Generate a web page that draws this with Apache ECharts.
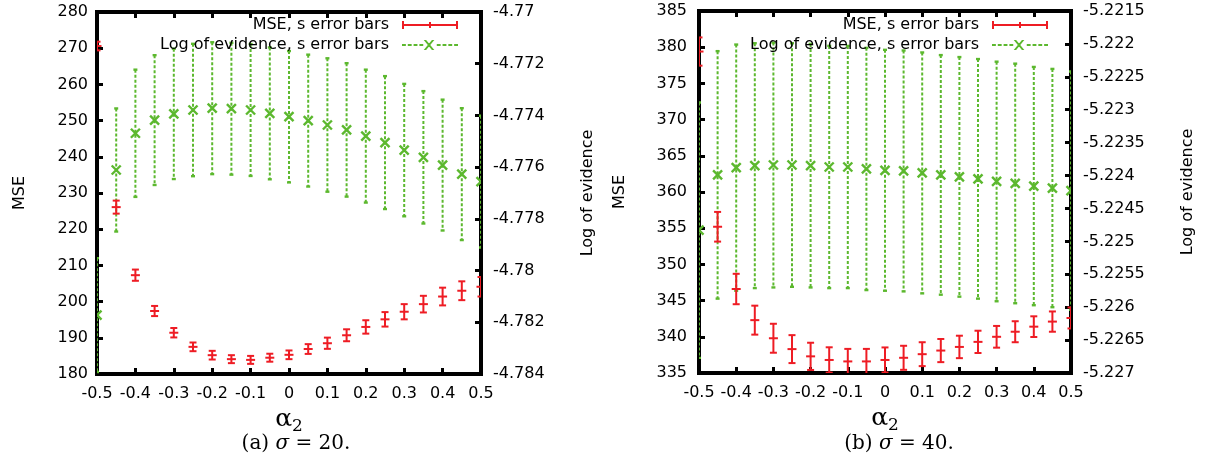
<!DOCTYPE html>
<html>
<head>
<meta charset="utf-8">
<script src="https://cdn.jsdelivr.net/npm/echarts@6/dist/echarts.min.js"></script>
<style>
  html, body { margin: 0; padding: 0; background: #fff; }
  #chart { width: 1209px; height: 475px; }
</style>
</head>
<body>
<div id="chart"></div>
<script>
// alpha_2 sweep shared by both panels
const alpha2 = [-0.5, -0.45, -0.4, -0.35, -0.3, -0.25, -0.2, -0.15, -0.1, -0.05, 0,
                0.05, 0.1, 0.15, 0.2, 0.25, 0.3, 0.35, 0.4, 0.45, 0.5];

// Panel (a): sigma = 20
const mse20      = [270.6, 226.1, 207.3, 197.4, 191.4, 187.5, 185.2, 184.1, 183.9, 184.5, 185.3,
                    186.9, 188.5, 190.7, 193.0, 195.1, 197.2, 199.3, 201.4, 203.0, 204.1];
const mse20Err   = [1.2, 1.8, 1.55, 1.4, 1.3, 1.2, 1.2, 1.1, 1.1, 1.1, 1.2,
                    1.35, 1.55, 1.65, 1.85, 2.0, 2.1, 2.3, 2.45, 2.6, 2.7];
const logEv20    = [-4.78172, -4.77611, -4.77469, -4.77418, -4.77394, -4.77379, -4.77372, -4.77374,
                    -4.77379, -4.77392, -4.77405, -4.7742, -4.77437, -4.77456, -4.7748, -4.77505,
                    -4.77534, -4.77562, -4.77592, -4.77627, -4.77656];
const logEv20Err = [0.0022, 0.00238, 0.00246, 0.00251, 0.00252, 0.00256, 0.00255, 0.00255, 0.00255,
                    0.00255, 0.00254, 0.00255, 0.00258, 0.00258, 0.00257, 0.00257, 0.00256, 0.00256,
                    0.00253, 0.00255, 0.00255];

// Panel (b): sigma = 40
const mse40      = [379.4, 355.2, 346.6, 342.3, 339.8, 338.3, 337.3, 336.8, 336.6, 336.6, 336.8,
                    337.1, 337.6, 338.1, 338.6, 339.3, 340.0, 340.7, 341.4, 342.1, 342.6];
const mse40Err   = [1.95, 2.05, 2.1, 2.0, 2.0, 1.93, 1.88, 1.75, 1.73, 1.73, 1.73,
                    1.66, 1.65, 1.6, 1.55, 1.54, 1.5, 1.45, 1.43, 1.4, 1.45];
const logEv40    = [-5.22483, -5.22399, -5.22388, -5.22385, -5.22384, -5.22384, -5.22385, -5.22387,
                    -5.22387, -5.2239, -5.22392, -5.22393, -5.22396, -5.22399, -5.22402, -5.22405,
                    -5.22409, -5.22412, -5.22416, -5.22419, -5.22423];
const logEv40Err = [0.00194, 0.00188, 0.00187, 0.00186, 0.00186, 0.00185, 0.00185, 0.00184, 0.00184,
                    0.00184, 0.00183, 0.00183, 0.00183, 0.00182, 0.00182, 0.00182, 0.00182, 0.00182,
                    0.00181, 0.00181, 0.00181];

// Axis ranges: [min, max, step]
const xRange     = [-0.5, 0.5, 0.1];
const mse20Range = [180, 280, 10];
const ev20Range  = [-4.784, -4.77, 0.002];
const mse40Range = [335, 385, 5];
const ev40Range  = [-5.227, -5.2215, 0.0005];

const seriesNames = ['MSE, s error bars', 'Log of evidence, s error bars'];
const captions = ['(a) {i|σ} = 20.', '(b) {i|σ} = 40.'];

const RED = '#ee1c24';
const GREEN = '#5cb82e';
const SANS = 'DejaVu Sans';
const SERIF = 'DejaVu Serif';

const grids = [
  { left: 97, top: 12, width: 384, height: 362 },
  { left: 699, top: 11, width: 372, height: 362 }
];

function triples(xs, ys, es) {
  return xs.map((x, i) => [x, ys[i], es[i]]);
}

// Red: solid bar with caps and a "+" at the value
function redBar(params, api) {
  const x = api.value(0), y = api.value(1), e = api.value(2);
  const c = api.coord([x, y]);
  const t = api.coord([x, y + e]);
  const b = api.coord([x, y - e]);
  const st = { stroke: RED, lineWidth: 2, fill: null };
  const cap = 3.5, m = 4.5;
  return {
    type: 'group',
    children: [
      { type: 'line', shape: { x1: c[0], y1: t[1], x2: c[0], y2: b[1] }, style: st },
      { type: 'line', shape: { x1: c[0] - cap, y1: t[1], x2: c[0] + cap, y2: t[1] }, style: st },
      { type: 'line', shape: { x1: c[0] - cap, y1: b[1], x2: c[0] + cap, y2: b[1] }, style: st },
      { type: 'line', shape: { x1: c[0] - m, y1: c[1], x2: c[0] + m, y2: c[1] }, style: st }
    ]
  };
}

// Green: dotted bar with short caps and an "x" at the value
function greenBar(params, api) {
  const x = api.value(0), y = api.value(1), e = api.value(2);
  const c = api.coord([x, y]);
  const t = api.coord([x, y + e]);
  const b = api.coord([x, y - e]);
  const dotted = { stroke: GREEN, lineWidth: 2, lineDash: [3, 2], fill: null };
  const solid = { stroke: GREEN, lineWidth: 2.4, fill: null };
  const cap = 2, m = 4.5;
  return {
    type: 'group',
    children: [
      { type: 'line', shape: { x1: c[0], y1: t[1], x2: c[0], y2: b[1] }, style: dotted },
      { type: 'line', shape: { x1: c[0] - cap, y1: t[1], x2: c[0] + cap, y2: t[1] }, style: solid },
      { type: 'line', shape: { x1: c[0] - cap, y1: b[1], x2: c[0] + cap, y2: b[1] }, style: solid },
      { type: 'line', shape: { x1: c[0] - m, y1: c[1] - m, x2: c[0] + m, y2: c[1] + m }, style: solid },
      { type: 'line', shape: { x1: c[0] - m, y1: c[1] + m, x2: c[0] + m, y2: c[1] - m }, style: solid }
    ]
  };
}

// Legend keys: red bar with end caps, dotted green line with an "x"
const redIcon = 'path://M0,0h2v8h-2zM54,0h2v8h-2zM0,3h56v2h-56zM27,1h2v6h-2z';
let greenPath = 'path://';
for (let d = 0; d < 56; d += 6) {
  if (d > 18 && d < 36) continue;
  greenPath += 'M' + d + ',4h4v2h-4z';
}
greenPath += 'M22.5,0L25,0L33.5,10L31,10zM31,0L33.5,0L25,10L22.5,10zM0,0h0.01v0.01h-0.01zM55.99,9.99h0.01v0.01h-0.01z';
const greenIcon = greenPath;

const tickLabel = { fontFamily: SANS, fontSize: 16, color: '#000' };
const tickStyle = { show: true, inside: true, length: 6, lineStyle: { color: '#000', width: 3 } };
const noLine = { show: false, onZero: false };

function xAxes(gi) {
  return [
    {
      gridIndex: gi, type: 'value', position: 'bottom',
      min: xRange[0], max: xRange[1], interval: xRange[2],
      axisLine: noLine, splitLine: { show: false },
      axisTick: tickStyle,
      axisLabel: Object.assign({ margin: 12 }, tickLabel),
      name: '{a|α}{b|2}', nameLocation: 'middle', nameGap: 28,
      nameTextStyle: {
        rich: {
          a: { fontFamily: SERIF, fontSize: 25, color: '#000', verticalAlign: 'bottom', padding: [0, 0, 3, 0] },
          b: { fontFamily: SERIF, fontSize: 17, color: '#000', verticalAlign: 'bottom' }
        }
      }
    },
    {
      gridIndex: gi, type: 'value', position: 'top',
      min: xRange[0], max: xRange[1], interval: xRange[2],
      axisLine: noLine, splitLine: { show: false },
      axisTick: tickStyle, axisLabel: { show: false }
    }
  ];
}

function yAxes(gi, leftRange, rightRange, leftMargin, rightMargin, leftGap, rightGap) {
  return [
    {
      gridIndex: gi, type: 'value', position: 'left',
      min: leftRange[0], max: leftRange[1], interval: leftRange[2],
      axisLine: noLine, splitLine: { show: false },
      axisTick: tickStyle,
      axisLabel: Object.assign({ margin: leftMargin }, tickLabel),
      name: 'MSE', nameLocation: 'middle', nameGap: leftGap,
      nameTextStyle: { fontFamily: SANS, fontSize: 16, color: '#000' }
    },
    {
      gridIndex: gi, type: 'value', position: 'right',
      min: rightRange[0], max: rightRange[1], interval: rightRange[2],
      axisLine: noLine, splitLine: { show: false },
      axisTick: tickStyle,
      axisLabel: Object.assign({ margin: rightMargin }, tickLabel),
      name: 'Log of evidence', nameLocation: 'middle', nameGap: rightGap,
      nameTextStyle: { fontFamily: SANS, fontSize: 16, color: '#000' }
    }
  ];
}

function legendPair(rightPx) {
  const base = {
    orient: 'vertical', align: 'right', padding: 0, right: rightPx,
    itemWidth: 56, symbolKeepAspect: false, selectedMode: false,
    textStyle: { fontFamily: SANS, fontSize: 16, color: '#000', lineHeight: 20, padding: [0, 8, 0, 0] }
  };
  return [
    Object.assign({}, base, {
      top: 15, itemHeight: 8,
      data: [{ name: seriesNames[0], icon: redIcon, itemStyle: { color: RED, borderWidth: 0 } }]
    }),
    Object.assign({}, base, {
      top: 35, itemHeight: 10,
      data: [{ name: seriesNames[1], icon: greenIcon, itemStyle: { color: GREEN, borderWidth: 0 } }]
    })
  ];
}

const option = {
  animation: false,
  backgroundColor: '#fff',
  grid: grids.map(g => Object.assign({ show: true, borderColor: '#000', borderWidth: 4, backgroundColor: 'transparent' }, g)),
  xAxis: [].concat(xAxes(0), xAxes(1)),
  yAxis: [].concat(
    yAxes(0, mse20Range, ev20Range, 9, 12, 69, 99),
    yAxes(1, mse40Range, ev40Range, 12, 12, 71, 109)
  ),
  legend: [].concat(legendPair(751), legendPair(161)),
  series: [
    { name: seriesNames[0], type: 'custom', xAxisIndex: 0, yAxisIndex: 0, clip: true,
      itemStyle: { color: RED }, encode: { x: 0, y: 1 },
      renderItem: redBar, data: triples(alpha2, mse20, mse20Err), z: 3 },
    { name: seriesNames[1], type: 'custom', xAxisIndex: 0, yAxisIndex: 1, clip: true,
      itemStyle: { color: GREEN }, encode: { x: 0, y: 1 },
      renderItem: greenBar, data: triples(alpha2, logEv20, logEv20Err), z: 2 },
    { name: seriesNames[0], type: 'custom', xAxisIndex: 2, yAxisIndex: 2, clip: true,
      itemStyle: { color: RED }, encode: { x: 0, y: 1 },
      renderItem: redBar, data: triples(alpha2, mse40, mse40Err), z: 3 },
    { name: seriesNames[1], type: 'custom', xAxisIndex: 2, yAxisIndex: 3, clip: true,
      itemStyle: { color: GREEN }, encode: { x: 0, y: 1 },
      renderItem: greenBar, data: triples(alpha2, logEv40, logEv40Err), z: 2 }
  ],
  graphic: [
    { type: 'text', x: 296, y: 444,
      style: { text: captions[0], fontFamily: SERIF, fontSize: 20, fill: '#000', align: 'center', verticalAlign: 'middle',
               rich: { i: { fontFamily: SERIF, fontSize: 20, fontStyle: 'italic' } } } },
    { type: 'text', x: 899, y: 444,
      style: { text: captions[1], fontFamily: SERIF, fontSize: 20, fill: '#000', align: 'center', verticalAlign: 'middle',
               rich: { i: { fontFamily: SERIF, fontSize: 20, fontStyle: 'italic' } } } }
  ]
};

const chart = echarts.init(document.getElementById('chart'), null, { renderer: 'canvas' });
chart.setOption(option);
</script>
</body>
</html>
